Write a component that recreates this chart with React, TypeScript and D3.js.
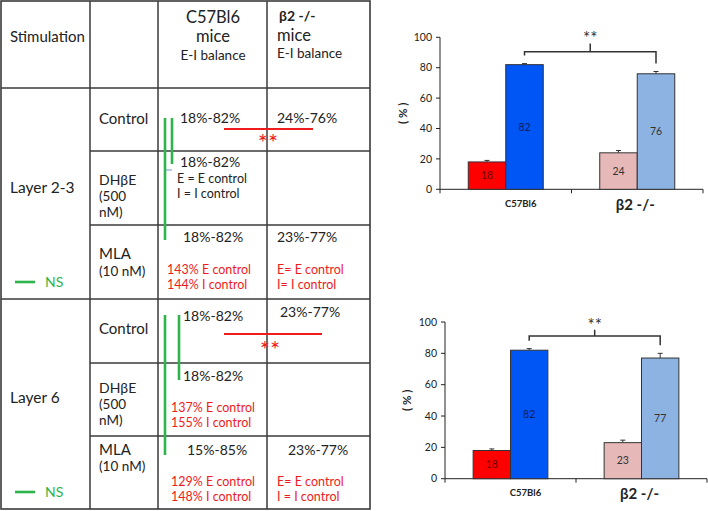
import React from "react";
import * as d3 from "d3";

const W = 708;
const H = 511;

// ---------- bar chart data ----------
const categories = ["C57Bl6", "β2 -/-"];
const seriesKeys = ["E", "I"];
const layer23E = [18, 24];
const layer23I = [82, 76];
const layer23ErrE = [1, 1.5];
const layer23ErrI = [0.7, 1.5];
const layer6E = [18, 23];
const layer6I = [82, 77];
const layer6ErrE = [1, 1.6];
const layer6ErrI = [1, 3];
const yTicks = [0, 20, 40, 60, 80, 100];

// ---------- table text ----------
const headerC57 = ["C57Bl6", "mice", "E-I balance"];
const headerB2 = ["β2 -/-", "mice", "E-I balance"];
const stimRows = ["Control", "DHβE", "(500", "nM)", "MLA", "(10 nM)"];

const FONT = "Lato, 'Open Sans', sans-serif";
const GREEN = "#2db54b";
const RED = "#ee1c1c";
const GRID = "#3a3a3a";

type ChartProps = {
  x0: number;
  x1: number;
  yBase: number;
  yTop: number;
  E: number[];
  I: number[];
  errE: number[];
  errI: number[];
  bracketTop: number;
  bracketTick: number;
  starsY: number;
  yLabelX: number;
  xLabelY: number;
};

function BarChart(p: ChartProps) {
  const y = d3.scaleLinear().domain([0, 100]).range([p.yBase, p.yTop]);
  const gx = d3.scaleBand<string>().domain(categories).range([p.x0, p.x1]).padding(0);
  const sx = d3
    .scaleBand<string>()
    .domain(seriesKeys)
    .range([0, gx.bandwidth()])
    .paddingInner(0)
    .paddingOuter(0.753);
  const colors = [
    ["#ff0000", "#0055f5"],
    ["#e6b8b7", "#8db3e2"],
  ];
  const bars: any[] = [];
  categories.forEach((c, ci) => {
    [p.E[ci], p.I[ci]].forEach((v, si) => {
      const key = seriesKeys[si];
      const err = si === 0 ? p.errE[ci] : p.errI[ci];
      const bx = (gx(c) as number) + (sx(key) as number);
      const bw = sx.bandwidth();
      bars.push({ c, ci, si, v, err, bx, bw, color: colors[ci][si] });
    });
  });
  const iBar0 = bars.find((b) => b.ci === 0 && b.si === 1);
  const iBar1 = bars.find((b) => b.ci === 1 && b.si === 1);
  const lx = iBar0.bx + iBar0.bw / 2;
  const rx = iBar1.bx + iBar1.bw / 2;
  const mx = (lx + rx) / 2;
  const by = y(p.bracketTop);
  const leftEnd = y(iBar0.v + iBar0.err) - 8;
  const rightEnd = y(iBar1.v + iBar1.err) - 8;
  const yMid = (p.yBase + p.yTop) / 2;
  return (
    <g fontFamily={FONT}>
      <line x1={p.x0} x2={p.x0} y1={y(0)} y2={y(100)} stroke="#222" strokeWidth={1} />
      {yTicks.map((t) => (
        <g key={t}>
          <line x1={p.x0 - 4} x2={p.x0} y1={y(t)} y2={y(t)} stroke="#222" />
          <text x={p.x0 - 8} y={y(t)} dy="0.35em" textAnchor="end" fontSize={10.5} fill="#222">
            {t}
          </text>
        </g>
      ))}
      <line x1={p.x0} x2={p.x1} y1={y(0)} y2={y(0)} stroke="#222" />
      {[p.x0, gx(categories[1]) as number, p.x1].map((t, i) => (
        <line key={i} x1={t} x2={t} y1={y(0)} y2={y(0) + 4} stroke="#222" />
      ))}
      {bars.map((b, i) => (
        <g key={i}>
          <line
            x1={b.bx + b.bw / 2}
            x2={b.bx + b.bw / 2}
            y1={y(b.v)}
            y2={y(b.v + b.err)}
            stroke="#333"
          />
          <line
            x1={b.bx + b.bw / 2 - 2.5}
            x2={b.bx + b.bw / 2 + 2.5}
            y1={y(b.v + b.err)}
            y2={y(b.v + b.err)}
            stroke="#333"
          />
          <rect
            x={b.bx}
            y={y(b.v)}
            width={b.bw}
            height={y(0) - y(b.v)}
            fill={b.color}
            stroke="#333"
            strokeWidth={1}
          />
          <text
            x={b.bx + b.bw / 2}
            y={(y(b.v) + y(0)) / 2}
            dy="0.35em"
            textAnchor="middle"
            fontSize={10.5}
            fill={b.si === 0 && b.ci === 0 ? "#6b0000" : b.si === 1 && b.ci === 0 ? "#0a1f5c" : "#333"}
          >
            {b.v}
          </text>
        </g>
      ))}
      <path
        d={`M${lx},${leftEnd}V${by}H${rx}V${rightEnd}M${mx},${by}V${y(p.bracketTick)}`}
        fill="none"
        stroke="#333"
        strokeWidth={1.5}
      />
      <text x={mx} y={p.starsY + 9} textAnchor="middle" fontSize={17} fill="#333">
        **
      </text>
      <text
        transform={`translate(${p.yLabelX},${yMid}) rotate(-90)`}
        textAnchor="middle"
        dy="0.35em"
        fontSize={11.5}
        fontWeight="bold"
        fill="#222"
      >
        ( % )
      </text>
      <text
        x={(gx(categories[0]) as number) + gx.bandwidth() / 2 + 15}
        y={p.xLabelY}
        dy="0.35em"
        textAnchor="middle"
        fontSize={9.5}
        fontWeight="bold"
        fill="#222"
      >
        {categories[0]}
      </text>
      <text
        x={(gx(categories[1]) as number) + gx.bandwidth() / 2 - 2}
        y={p.xLabelY + 1}
        dy="0.35em"
        textAnchor="middle"
        fontSize={15}
        fontWeight="bold"
        fill="#222"
      >
        {categories[1]}
      </text>
    </g>
  );
}

function T(props: any) {
  const { x, y, children, size = 14, color = "#222", anchor = "start", weight = "normal" } = props;
  return (
    <text
      x={x}
      y={y}
      dy="0.35em"
      fontSize={size}
      fill={color}
      textAnchor={anchor}
      fontWeight={weight}
      fontFamily={FONT}
    >
      {children}
    </text>
  );
}

function Stars({ x, y }: { x: number; y: number }) {
  return (
    <text x={x} y={y + 13} fontSize={24} fill={RED} textAnchor="middle" fontFamily={FONT}>
      **
    </text>
  );
}

function Table() {
  const L = 1,
    R = 370,
    Tp = 1,
    B = 509;
  const c1 = 90,
    c2 = 158,
    c3 = 267;
  const fullH = [88, 299];
  const partH = [151, 225, 363, 436];
  return (
    <g>
      <rect x={L} y={Tp} width={R - L} height={B - Tp} fill="none" stroke={GRID} strokeWidth={1.6} />
      {[c1, c2, c3].map((c) => (
        <line key={c} x1={c} x2={c} y1={Tp} y2={B} stroke={GRID} strokeWidth={1.5} />
      ))}
      {fullH.map((h) => (
        <line key={h} x1={L} x2={R} y1={h} y2={h} stroke={GRID} strokeWidth={1.5} />
      ))}
      {partH.map((h) => (
        <line key={h} x1={c1} x2={R} y1={h} y2={h} stroke={GRID} strokeWidth={1.5} />
      ))}
      <T x={10} y={37} size={15}>Stimulation</T>
      <T x={213} y={17} size={16.5} anchor="middle">{headerC57[0]}</T>
      <T x={213} y={36} size={16.5} anchor="middle">{headerC57[1]}</T>
      <T x={213} y={55} size={13.5} anchor="middle">{headerC57[2]}</T>
      <T x={279} y={16} size={14} weight="bold">{headerB2[0]}</T>
      <T x={277} y={35} size={16.5}>{headerB2[1]}</T>
      <T x={277} y={53} size={13.5}>{headerB2[2]}</T>

      <T x={10} y={188} size={15.5}>Layer  2-3</T>
      <T x={99} y={119} size={15}>{stimRows[0]}</T>
      <T x={99} y={180} size={14}>{stimRows[1]}</T>
      <T x={99} y={196} size={13.5}>{stimRows[2]}</T>
      <T x={99} y={212} size={13.5}>{stimRows[3]}</T>
      <T x={99} y={254} size={15}>{stimRows[4]}</T>
      <T x={99} y={271} size={13.5}>{stimRows[5]}</T>

      <T x={180} y={118} size={14}>18%-82%</T>
      <T x={277} y={118} size={14}>24%-76%</T>
      <T x={180} y={162} size={14}>18%-82%</T>
      <T x={177} y={179} size={12.5}>E = E control</T>
      <T x={177} y={194} size={12.5}>I = I control</T>
      <T x={183} y={237} size={14}>18%-82%</T>
      <T x={277} y={237} size={14}>23%-77%</T>
      <T x={167} y={270} size={12.5} color={RED}>143% E control</T>
      <T x={167} y={285} size={12.5} color={RED}>144% I control</T>
      <T x={277} y={270} size={12.5} color={RED}>E= E control</T>
      <T x={277} y={285} size={12.5} color={RED}>I= I control</T>

      <line x1={224} x2={313} y1={129} y2={129} stroke={RED} strokeWidth={2} />
      <Stars x={268} y={138} />
      <line x1={165} x2={165} y1={118} y2={240} stroke={GREEN} strokeWidth={2.6} />
      <line x1={172} x2={172} y1={118} y2={164} stroke={GREEN} strokeWidth={2.6} />
      <line x1={166} x2={172} y1={170} y2={170} stroke="#4a7fd0" strokeWidth={0.8} />
      <line x1={15} x2={35} y1={282} y2={282} stroke={GREEN} strokeWidth={2.6} />
      <T x={45} y={282} size={14} color={GREEN}>NS</T>

      <T x={10} y={398} size={15.5}>Layer 6</T>
      <T x={99} y={329} size={15}>{stimRows[0]}</T>
      <T x={99} y={388} size={14}>{stimRows[1]}</T>
      <T x={99} y={404} size={13.5}>{stimRows[2]}</T>
      <T x={99} y={420} size={13.5}>{stimRows[3]}</T>
      <T x={99} y={450} size={15}>{stimRows[4]}</T>
      <T x={99} y={466} size={13.5}>{stimRows[5]}</T>

      <T x={183} y={316} size={14}>18%-82%</T>
      <T x={280} y={312} size={14}>23%-77%</T>
      <T x={183} y={376} size={14}>18%-82%</T>
      <T x={171} y={408} size={12.5} color={RED}>137% E control</T>
      <T x={171} y={423} size={12.5} color={RED}>155% I control</T>
      <T x={187} y={450} size={14}>15%-85%</T>
      <T x={288} y={450} size={14}>23%-77%</T>
      <T x={171} y={482} size={12.5} color={RED}>129% E control</T>
      <T x={171} y={497} size={12.5} color={RED}>148% I control</T>
      <T x={277} y={482} size={12.5} color={RED}>E= E control</T>
      <T x={277} y={497} size={12.5} color={RED}>I = I control</T>

      <line x1={224} x2={322} y1={334} y2={334} stroke={RED} strokeWidth={2} />
      <Stars x={270} y={345} />
      <line x1={165} x2={165} y1={315} y2={455} stroke={GREEN} strokeWidth={2.6} />
      <line x1={179} x2={179} y1={315} y2={380} stroke={GREEN} strokeWidth={2.6} />
      <line x1={15} x2={35} y1={492} y2={492} stroke={GREEN} strokeWidth={2.6} />
      <T x={45} y={492} size={14} color={GREEN}>NS</T>
    </g>
  );
}

export default function App() {
  return (
    <svg width={W} height={H} style={{ position: "absolute", left: 0, top: 0, background: "#fff" }}>
      <rect width={W} height={H} fill="#fff" />
      <Table />
      <BarChart
        x0={440}
        x1={703}
        yBase={189.3}
        yTop={37.3}
        E={layer23E}
        I={layer23I}
        errE={layer23ErrE}
        errI={layer23ErrI}
        bracketTop={90.5}
        bracketTick={96}
        starsY={35}
        yLabelX={403}
        xLabelY={204}
      />
      <BarChart
        x0={445}
        x1={707}
        yBase={478.7}
        yTop={322}
        E={layer6E}
        I={layer6I}
        errE={layer6ErrE}
        errI={layer6ErrI}
        bracketTop={91}
        bracketTick={95}
        starsY={322}
        yLabelX={407}
        xLabelY={493}
      />
    </svg>
  );
}
